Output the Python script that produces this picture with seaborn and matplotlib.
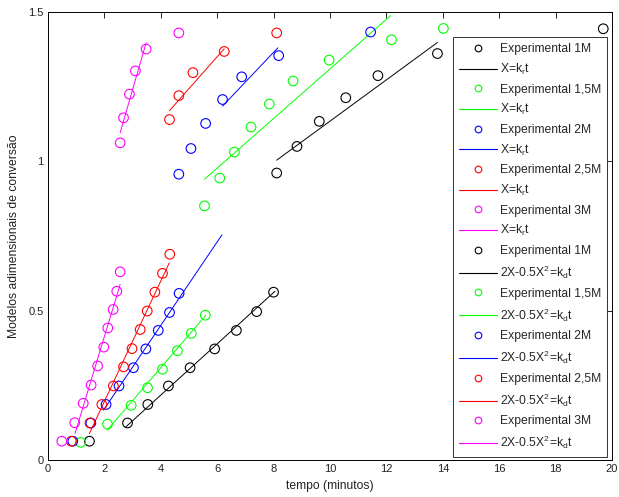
import matplotlib
matplotlib.use("Agg")
import matplotlib.pyplot as plt
import seaborn as sns
from matplotlib.lines import Line2D

# ---------------- data ----------------
concs = ["1M", "1,5M", "2M", "2,5M", "3M"]
colors = ["#000000", "#00ff00", "#0000ff", "#ff0000", "#ff00ff"]

# X = k_r t  (upper cluster)
kr_t = [
    [8.11, 8.83, 9.62, 10.56, 11.70, 13.81, 19.69],
    [5.55, 6.09, 6.61, 7.20, 7.85, 8.69, 9.97, 12.18, 14.02],
    [4.64, 5.07, 5.59, 6.19, 6.87, 8.18, 11.44],
    [4.31, 4.64, 5.14, 6.25, 8.11],
    [2.56, 2.68, 2.89, 3.10, 3.48, 4.64],
]
kr_x = [
    [0.961, 1.050, 1.134, 1.213, 1.287, 1.361, 1.444],
    [0.851, 0.944, 1.031, 1.115, 1.192, 1.269, 1.339, 1.407, 1.445],
    [0.957, 1.043, 1.127, 1.207, 1.283, 1.354, 1.433],
    [1.140, 1.220, 1.297, 1.368, 1.430],
    [1.062, 1.146, 1.225, 1.303, 1.376, 1.430],
]
kr_fit_t = [[8.11, 13.81], [5.55, 12.15], [6.19, 8.15], [4.31, 6.25], [2.56, 3.48]]
kr_fit_x = [[1.004, 1.398], [0.940, 1.488], [1.185, 1.380], [1.170, 1.377], [1.096, 1.397]]

# 2X - 0.5X^2 = k_d t  (lower cluster)
kd_t = [
    [1.47, 2.82, 3.54, 4.27, 5.04, 5.91, 6.68, 7.40, 8.00],
    [1.16, 2.11, 2.95, 3.53, 4.06, 4.59, 5.08, 5.58],
    [0.88, 1.52, 2.06, 2.52, 3.03, 3.47, 3.91, 4.31, 4.65],
    [0.83, 1.49, 1.91, 2.32, 2.68, 2.98, 3.27, 3.52, 3.79, 4.06, 4.32],
    [0.49, 0.95, 1.25, 1.53, 1.76, 1.98, 2.12, 2.31, 2.44, 2.56],
]
kd_x = [
    [0.063, 0.124, 0.186, 0.248, 0.309, 0.372, 0.434, 0.497, 0.562],
    [0.059, 0.120, 0.183, 0.242, 0.304, 0.366, 0.424, 0.485],
    [0.063, 0.124, 0.186, 0.248, 0.309, 0.372, 0.434, 0.494, 0.558],
    [0.063, 0.124, 0.186, 0.248, 0.312, 0.373, 0.437, 0.499, 0.562, 0.625, 0.689],
    [0.063, 0.125, 0.190, 0.251, 0.315, 0.378, 0.442, 0.504, 0.565, 0.630],
]
kd_fit_t = [[2.75, 8.05], [2.10, 5.60], [1.97, 6.17], [1.47, 4.30], [0.96, 2.56]]
kd_fit_x = [[0.110, 0.565], [0.100, 0.485], [0.167, 0.754], [0.089, 0.660], [0.089, 0.588]]

kr_label = r"X=k$_r$t"
kd_label = r"2X-0.5X$^2$=k$_d$t"
x_ticks = [0, 2, 4, 6, 8, 10, 12, 14, 16, 18, 20]
y_ticks = [0, 0.5, 1, 1.5]
y_tick_labels = ["0", "0.5", "1", "1.5"]

# ---------------- style ----------------
sns.set_theme(style="white")
plt.rcParams["font.family"] = ["Liberation Sans", "DejaVu Sans"]
plt.rcParams["mathtext.default"] = "regular"
plt.rcParams["mathtext.fontset"] = "custom"
plt.rcParams["mathtext.rm"] = "Liberation Sans"
plt.rcParams["xtick.direction"] = "in"
plt.rcParams["ytick.direction"] = "in"
plt.rcParams["xtick.top"] = True
plt.rcParams["ytick.right"] = True

fig = plt.figure(figsize=(6.19, 4.97), dpi=100)
ax = fig.add_axes([0.0775, 0.0744, 0.9112, 0.9014])

for i, c in enumerate(colors):
    for tt, xx in ((kr_t[i], kr_x[i]), (kd_t[i], kd_x[i])):
        sns.scatterplot(x=tt, y=xx, ax=ax, marker="o", s=48,
                        facecolor="none", edgecolor=c, linewidth=0.8,
                        legend=False, zorder=3)
    for ft, fx in ((kr_fit_t[i], kr_fit_x[i]), (kd_fit_t[i], kd_fit_x[i])):
        sns.lineplot(x=ft, y=fx, ax=ax, color=c, linewidth=0.7, zorder=2)

ax.set_xlim(0, 20)
ax.set_ylim(0, 1.5)
ax.set_xticks(x_ticks)
ax.set_xticklabels([str(v) for v in x_ticks])
ax.set_yticks(y_ticks)
ax.set_yticklabels(y_tick_labels)
ax.tick_params(axis="both", labelsize=8, length=4, width=0.6, color="black",
               labelcolor="#222222", pad=3)
for sp in ax.spines.values():
    sp.set_color("black")
    sp.set_linewidth(0.7)

ax.set_xlabel("tempo (minutos)", fontsize=8.7, color="#222222", labelpad=4)
ax.set_ylabel("Modelos adimensionais de conversão", fontsize=8.7,
              color="#222222", labelpad=6)

handles, labels = [], []
for lab in (kr_label, kd_label):
    for i, c in enumerate(colors):
        handles.append(Line2D([], [], linestyle="none", marker="o",
                              markerfacecolor="none", markeredgecolor=c,
                              markersize=4.8, markeredgewidth=0.8))
        labels.append("Experimental " + concs[i])
        handles.append(Line2D([], [], color=c, linewidth=0.8))
        labels.append(lab)

leg = ax.legend(handles, labels, loc="upper right",
                bbox_to_anchor=(0.991, 0.944), fontsize=8.7,
                labelspacing=0.55, handlelength=3.1, handletextpad=0.25,
                borderpad=0.5, frameon=True, fancybox=False, framealpha=1,
                edgecolor="#333333", borderaxespad=0)
leg.get_frame().set_linewidth(0.7)

fig.savefig("out.png", dpi=100)
